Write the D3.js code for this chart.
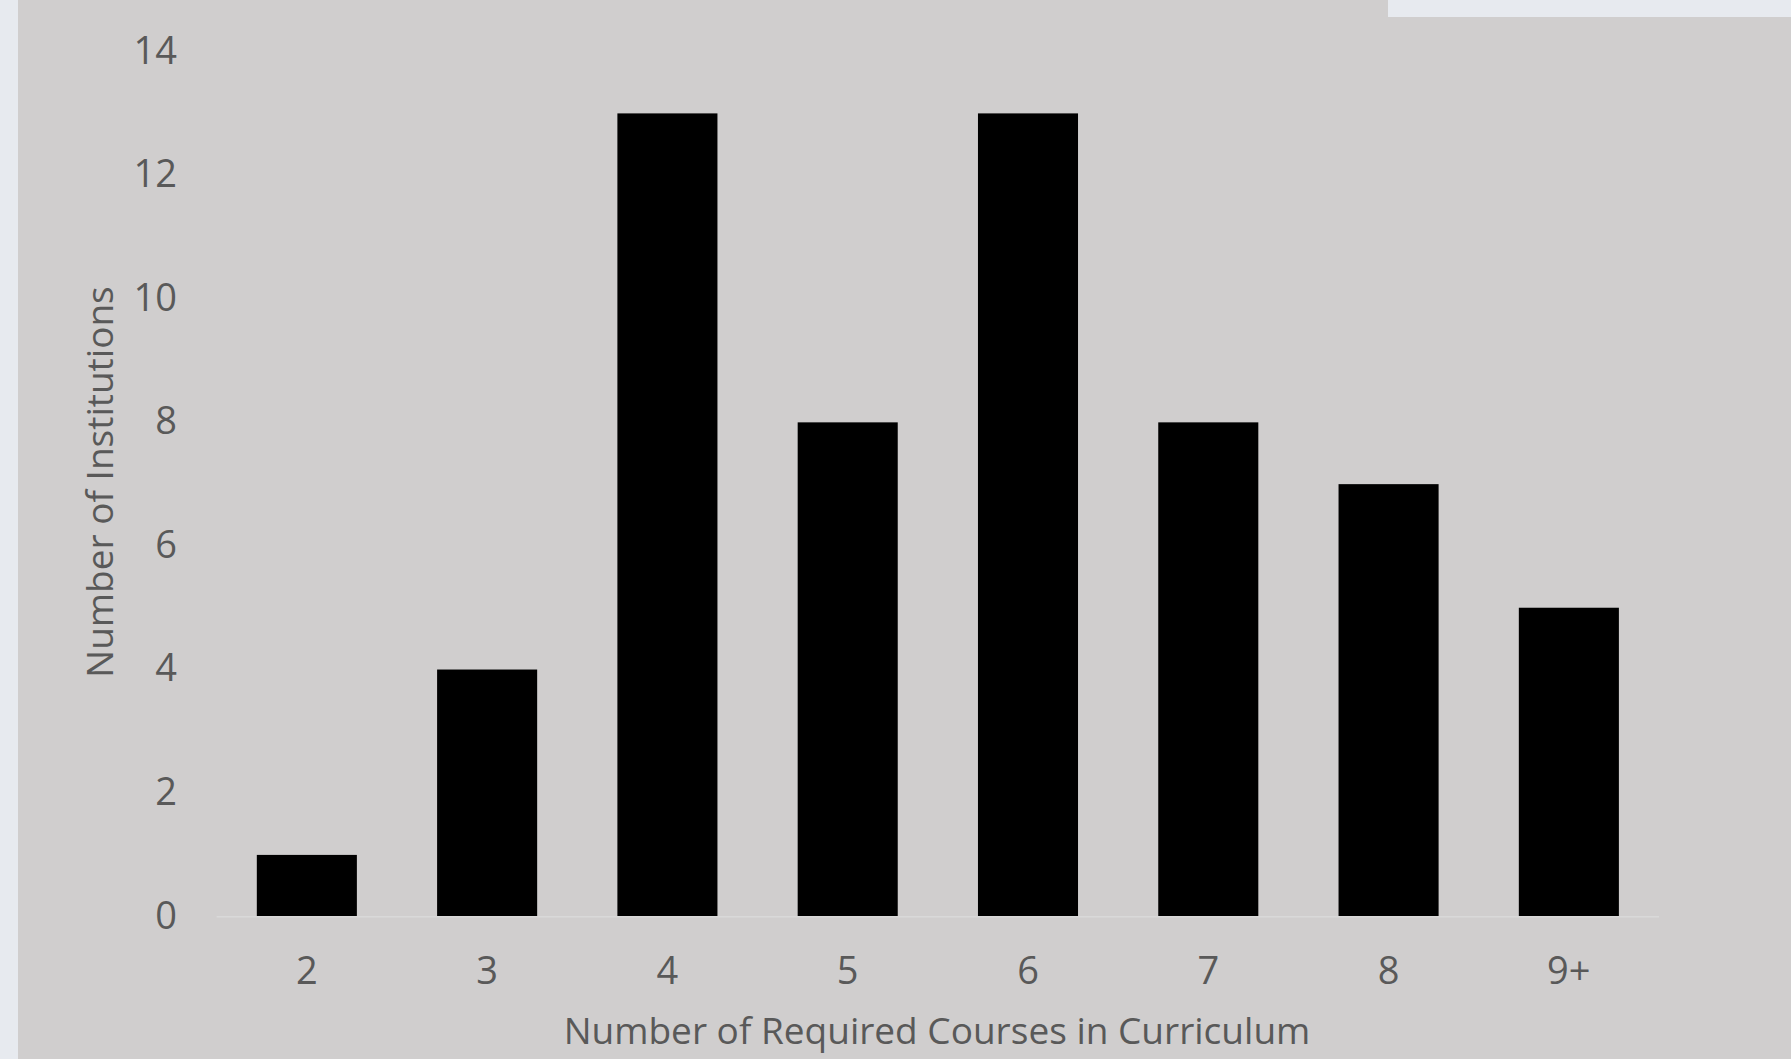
<!DOCTYPE html>
<html><head><meta charset="utf-8">
<script src="https://cdn.jsdelivr.net/npm/d3@7"></script>
<style>html,body{margin:0;padding:0;background:#e7eaef;}svg{display:block;}</style>
</head><body>
<script>
const categories = ["2","3","4","5","6","7","8","9+"];
const values = [1,4,13,8,13,8,7,5];
const yTicks = [0,2,4,6,8,10,12,14];
const xTitle = "Number of Required Courses in Curriculum";
const yTitle = "Number of Institutions";

const W = 1791, H = 1059;
const svg = d3.select("body").append("svg").attr("width", W).attr("height", H);
svg.append("rect").attr("x",0).attr("y",0).attr("width",W).attr("height",H).attr("fill","#e7eaef");
svg.append("path").attr("d", `M18,0 H1388 V17 H${W} V${H} H18 Z`).attr("fill","#d0cece");

const plot = {left: 216.7, right: 1659, top: 51.6, bottom: 916.7};
const x = d3.scaleBand().domain(categories).range([plot.left, plot.right]).paddingInner(0.445).paddingOuter(0.2225);
const y = d3.scaleLinear().domain([0,14]).range([plot.bottom, plot.top]);

const font = "'Open Sans', sans-serif";
const txt = "#595959";

svg.selectAll("rect.bar").data(values).enter().append("rect")
  .attr("class","bar")
  .attr("x",(d,i)=>x(categories[i]))
  .attr("width",x.bandwidth())
  .attr("y",d=>y(d))
  .attr("height",d=>y(0)-y(d))
  .attr("fill","#000");

svg.append("line").attr("x1",plot.left).attr("x2",plot.right).attr("y1",y(0)).attr("y2",y(0))
  .attr("stroke","#d9d9d9").attr("stroke-width",1.5);

const yAxis = d3.axisLeft(y).tickValues(yTicks).tickSize(0).tickPadding(0);
const gy = svg.append("g").attr("transform","translate(177,0)").call(yAxis);
gy.select(".domain").remove();
gy.selectAll("text").attr("font-family",font).attr("font-size",38).attr("fill",txt).attr("dy","0.3em");

const xAxis = d3.axisBottom(x).tickSize(0).tickPadding(0);
const gx = svg.append("g").attr("transform",`translate(0,${plot.bottom})`).call(xAxis);
gx.select(".domain").remove();
gx.selectAll("text").attr("font-family",font).attr("font-size",38).attr("fill",txt).attr("dy",0).attr("y",67);

svg.append("text").attr("x",937).attr("y",1044).attr("text-anchor","middle")
  .attr("font-family",font).attr("font-size",37).attr("fill",txt).text(xTitle);
svg.append("text").attr("transform","translate(113,482) rotate(-90)").attr("text-anchor","middle")
  .attr("font-family",font).attr("font-size",37).attr("fill",txt).text(yTitle);
</script>
</body></html>
